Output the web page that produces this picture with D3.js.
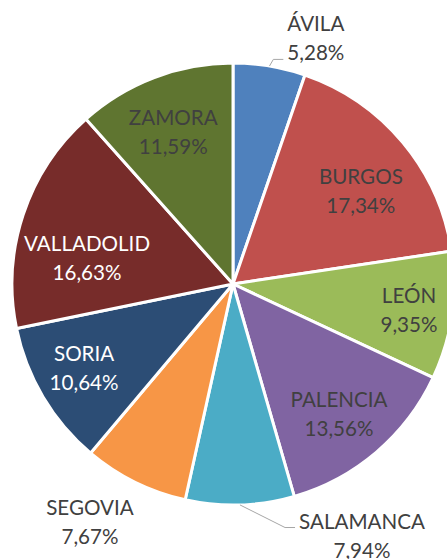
<!DOCTYPE html>
<html>
<head>
<meta charset="utf-8">
<script src="https://cdn.jsdelivr.net/npm/d3@7"></script>
<style>
  html, body { margin: 0; padding: 0; background: #fff; }
  svg { display: block; }
  .lbl { font-family: Lato, "Open Sans", sans-serif; font-size: 20.6px; }
</style>
</head>
<body>
<svg class="svg" width="447" height="559"></svg>
<script>
// provincias de Castilla y León, porcentaje
let provincias = ['ÁVILA','BURGOS','LEÓN','PALENCIA','SALAMANCA','SEGOVIA','SORIA','VALLADOLID','ZAMORA'];
let porcentajes = [5.28, 17.34, 9.35, 13.56, 7.94, 7.67, 10.64, 16.63, 11.59];
let colores = ['#4f81bd','#c0504d','#9bbb59','#8064a2','#4bacc6','#f79646','#2c4d75','#772c2a','#5f7530'];

// colocación de etiquetas (best fit de Excel): radio relativo y giro respecto al ángulo medio
let labelRadio = [1.175, 0.714, 0.805, 0.759, 1.281, 1.257, 0.773, 0.671, 0.739];
let labelGiro = [9.1, 3.9, 0.1, 1.3, -25.3, 4.7, 1.4, -8.2, -0.6];
let labelBlanco = ['SORIA','VALLADOLID'];
let lineas = [{name:'ÁVILA', line:1, dy:7}, {name:'SALAMANCA', line:0, dy:6}];

let cx = 233, cy = 284, radio = 221;
let lineGap = 29;
let fontSize = 20.6;

let svg = d3.select('.svg');
let g = svg.append('g').attr('transform','translate(' + cx + ',' + cy + ')');

let data = provincias.map(function (d,i) {
    return {name: d, value: porcentajes[i], color: colores[i], i: i};
});

let pie = d3.pie().sort(null).value(function (d) { return d.value; });
let arc = d3.arc().innerRadius(0).outerRadius(radio);
let arcs = pie(data);

g.selectAll('path')
    .data(arcs)
    .enter()
    .append('path')
    .attr('d', arc)
    .attr('fill', function (d) { return d.data.color; })
    .attr('stroke', '#fff')
    .attr('stroke-width', 3)
    .attr('stroke-linejoin', 'round');

function fmt(v) {
    return v.toFixed(2).replace('.', ',') + '%';
}

let labelInfo = {};
arcs.forEach(function (d) {
    let i = d.data.i;
    let mid = (d.startAngle + d.endAngle) / 2;
    let a = mid + labelGiro[i] * Math.PI / 180;
    let r = labelRadio[i] * radio;
    let x = Math.sin(a) * r;
    let y = -Math.cos(a) * r;
    let fill = labelBlanco.indexOf(d.data.name) >= 0 ? '#ffffff' : '#404040';
    let capH = fontSize * 0.72;
    let t = g.append('text')
        .attr('class','lbl')
        .attr('text-anchor','middle')
        .attr('fill', fill);
    let l1 = t.append('tspan').attr('x', x).attr('y', y - lineGap/2 + capH/2).text(d.data.name);
    let l2 = t.append('tspan').attr('x', x).attr('y', y + lineGap/2 + capH/2).text(fmt(d.data.value));
    labelInfo[d.data.name] = {x: x, y: y, mid: mid,
        w: [l1.node().getComputedTextLength(), l2.node().getComputedTextLength()]};
});

// líneas guía
lineas.forEach(function (l) {
    let info = labelInfo[l.name];
    let sx = Math.sin(info.mid) * radio, sy = -Math.cos(info.mid) * radio;
    let lineY = info.y + (l.line === 0 ? -lineGap/2 : lineGap/2);
    let ex = info.x - info.w[l.line]/2 - 4;
    let ey = lineY + l.dy;
    g.append('polyline')
        .attr('points', [[sx,sy],[ex-10,ey],[ex,ey]].map(function (p) { return p.join(','); }).join(' '))
        .attr('fill','none')
        .attr('stroke','#a6a6a6')
        .attr('stroke-width',1);
});
</script>
</body>
</html>
